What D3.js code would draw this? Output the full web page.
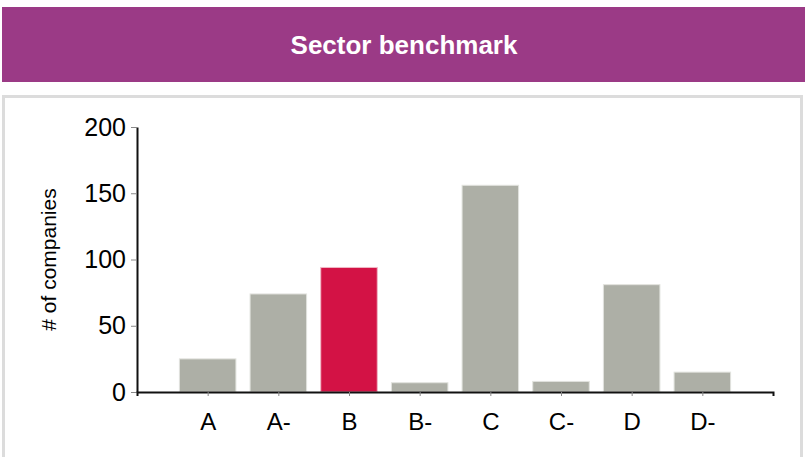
<!DOCTYPE html>
<html>
<head>
<meta charset="utf-8">
<script src="https://cdn.jsdelivr.net/npm/d3@7"></script>
<style>
  body { margin: 0; background: #fff; }
  svg { display: block; font-family: "Liberation Sans", Arial, sans-serif; }
</style>
</head>
<body>
<svg id="chart" width="805" height="457"></svg>
<script>
// chart data
const ratings = ["A", "A-", "B", "B-", "C", "C-", "D", "D-"]
const companies = [25, 74, 94, 7, 156, 8, 81, 15]
const highlight = "B"
const yTicks = [0, 50, 100, 150, 200]

let svg = d3.select("#chart")

// header bar
svg.append("rect")
    .attr("x", 2).attr("y", 7)
    .attr("width", 803).attr("height", 75)
    .attr("fill", "#9b3a86")

svg.append("text")
    .attr("x", 404).attr("y", 54)
    .attr("text-anchor", "middle")
    .attr("fill", "#fff")
    .attr("font-size", "26px")
    .attr("font-weight", "bold")
    .text("Sector benchmark")

// panel frame
svg.append("rect")
    .attr("x", 3.5).attr("y", 96.5)
    .attr("width", 798).attr("height", 380)
    .attr("fill", "none")
    .attr("stroke", "#dcdcdc")
    .attr("stroke-width", 3)

let plotLeft = 137, plotRight = 773, plotTop = 127, plotBottom = 392

let x = d3.scalePoint()
    .domain(ratings)
    .range([plotLeft, plotRight])
    .padding(1)

let y = d3.scaleLinear()
    .domain([0, 200])
    .range([plotBottom, plotTop])

let barWidth = x.step() * 0.8

// bars
svg.selectAll("rect.bar")
    .data(ratings)
    .enter().append("rect")
    .attr("class", "bar")
    .attr("x", d => x(d) - barWidth / 2)
    .attr("y", (d, i) => y(companies[i]))
    .attr("width", barWidth)
    .attr("height", (d, i) => y(0) - y(companies[i]))
    .attr("fill", d => d == highlight ? "#d31245" : "#adafa6")
    .attr("stroke", d => d == highlight ? "#f0b8c6" : "#e2e3de")
    .attr("stroke-width", 1)

// y axis
let yAxis = svg.append("g")
    .attr("transform", "translate(" + plotLeft + ",0)")
    .call(d3.axisLeft(y).tickValues(yTicks).tickSize(6).tickSizeOuter(0).tickPadding(5))

yAxis.select(".domain").attr("stroke", "#111").attr("stroke-width", 2)
yAxis.selectAll(".tick line").attr("stroke", "#888")
yAxis.selectAll(".tick text")
    .attr("font-size", "25px")
    .attr("fill", "#000")
    .attr("font-family", "Liberation Sans, Arial, sans-serif")

// x axis
let xAxis = svg.append("g")
    .attr("transform", "translate(0," + plotBottom + ")")
    .call(d3.axisBottom(x).tickSize(4).tickSizeOuter(4).tickPadding(17))

xAxis.select(".domain").attr("stroke", "#111").attr("stroke-width", 2)
xAxis.selectAll(".tick line").attr("stroke", "#888")
xAxis.selectAll(".tick text")
    .attr("font-size", "24px")
    .attr("fill", "#000")
    .attr("font-family", "Liberation Sans, Arial, sans-serif")

// y axis title
svg.append("text")
    .attr("transform", "translate(56," + (plotTop + plotBottom) / 2 + ") rotate(-90)")
    .attr("text-anchor", "middle")
    .attr("font-size", "21px")
    .attr("fill", "#000")
    .text("# of companies")
</script>
</body>
</html>
